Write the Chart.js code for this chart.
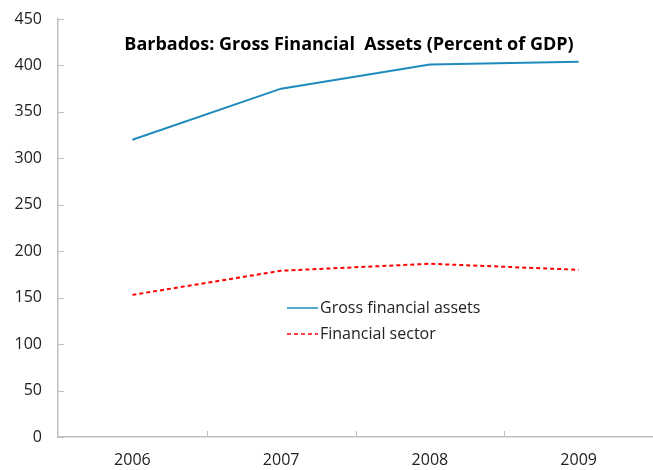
<!DOCTYPE html>
<html>
<head>
    <title>Barbados Gross Financial Assets</title>
    <script src="https://cdn.jsdelivr.net/npm/chart.js"></script>
    <style>
        body { margin: 0; background: #fff; }
        .chart-container { width: 653px; height: 470px; }
    </style>
</head>
<body>
    <div class="chart-container">
        <canvas id="assetsChart"></canvas>
    </div>

    <script>
    const years = ['2006', '2007', '2008', '2009'];
    const grossAssets = [320, 375, 401, 404];
    const financialSector = [153, 179, 186.5, 180];
    const yTicks = [0, 50, 100, 150, 200, 250, 300, 350, 400, 450];

    const fontFamily = '"Open Sans", "Noto Sans", sans-serif';
    const axisColor = '#bfbfbf';

    // short tick marks pointing into the plot, title and legend drawn inside the area
    const insideDecor = {
        id: 'insideDecor',
        afterDraw(chart) {
            const ctx = chart.ctx;
            const area = chart.chartArea;
            const x = chart.scales.x, y = chart.scales.y;
            ctx.save();
            ctx.strokeStyle = axisColor;
            ctx.lineWidth = 1;
            ctx.beginPath();
            const step = (x.right - x.left) / years.length;
            for (let i = 1; i <= years.length; i++) {
                const px = Math.round(x.left + i * step) + 0.5;
                ctx.moveTo(px, area.bottom);
                ctx.lineTo(px, area.bottom - 6);
            }
            yTicks.forEach(v => {
                const py = Math.round(y.getPixelForValue(v)) + 0.5;
                ctx.moveTo(area.left, py);
                ctx.lineTo(area.left + 6, py);
            });
            ctx.stroke();

            ctx.fillStyle = '#000';
            ctx.font = 'bold 18px ' + fontFamily;
            ctx.textAlign = 'center';
            ctx.textBaseline = 'middle';
            ctx.fillText('Barbados: Gross Financial  Assets (Percent of GDP)', 349, 45);

            ctx.font = '16px ' + fontFamily;
            ctx.textAlign = 'left';
            chart.data.datasets.forEach((ds, i) => {
                const ly = 308 + i * 26;
                ctx.strokeStyle = ds.borderColor;
                ctx.lineWidth = 1.5;
                ctx.setLineDash(ds.borderDash || []);
                ctx.beginPath();
                ctx.moveTo(287, ly);
                ctx.lineTo(318, ly);
                ctx.stroke();
                ctx.setLineDash([]);
                ctx.fillStyle = '#222';
                ctx.fillText(ds.label, 320, ly);
            });
            ctx.restore();
        }
    };

    new Chart(document.getElementById('assetsChart'), {
        type: 'line',
        data: {
            labels: years,
            datasets: [
                {
                    label: 'Gross financial assets',
                    data: grossAssets,
                    borderColor: '#1f8bbd',
                    borderWidth: 2,
                    pointRadius: 0,
                    tension: 0,
                    fill: false
                },
                {
                    label: 'Financial sector',
                    data: financialSector,
                    borderColor: '#ff0000',
                    borderWidth: 2,
                    borderDash: [4, 3],
                    pointRadius: 0,
                    tension: 0,
                    fill: false
                }
            ]
        },
        options: {
            responsive: true,
            maintainAspectRatio: false,
            animation: false,
            layout: { padding: { top: 19, right: 0, left: 0, bottom: 0 } },
            plugins: {
                legend: { display: false },
                tooltip: { enabled: false }
            },
            scales: {
                x: {
                    offset: true,
                    afterFit: scale => { scale.height = 33; },
                    grid: { display: false, drawTicks: false },
                    border: { color: axisColor, width: 1.5 },
                    ticks: { color: '#222', padding: 14, font: { family: fontFamily, size: 16 } }
                },
                y: {
                    min: 0,
                    max: 450,
                    afterBuildTicks: scale => { scale.ticks = yTicks.map(v => ({ value: v })); },
                    afterFit: scale => {
                        scale.width = 58;
                        scale.paddingTop = 0;
                        scale.paddingBottom = 0;
                    },
                    grid: { display: false, drawTicks: false },
                    border: { color: axisColor, width: 1.5 },
                    ticks: { color: '#222', padding: 16, font: { family: fontFamily, size: 16 } }
                }
            }
        },
        plugins: [insideDecor]
    });
    </script>
</body>
</html>
